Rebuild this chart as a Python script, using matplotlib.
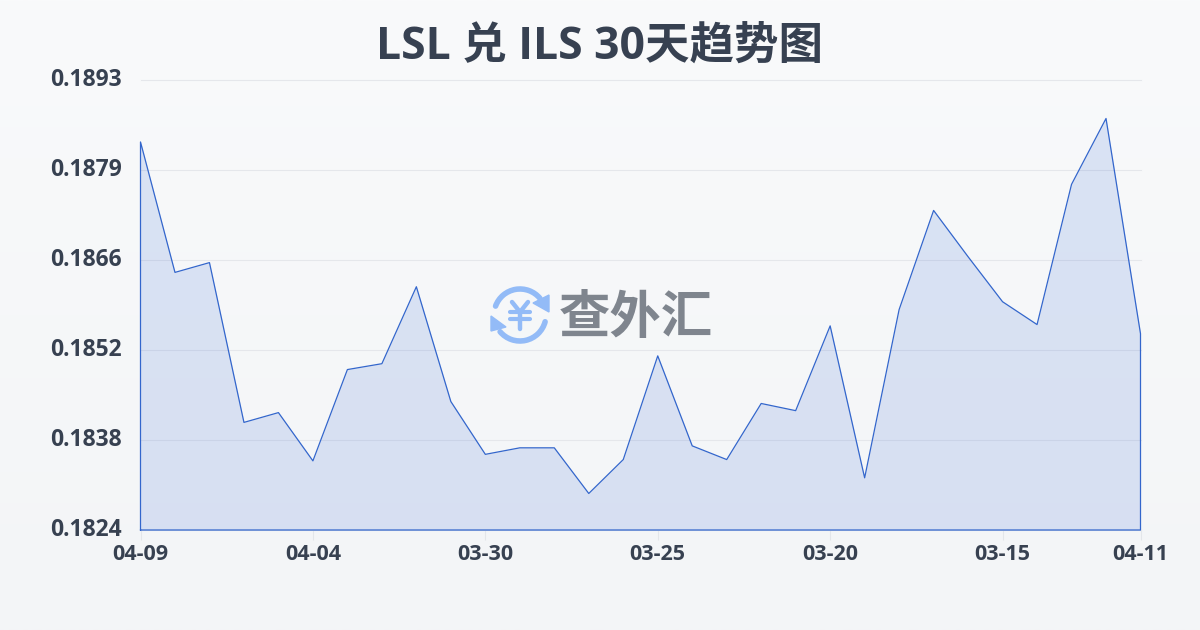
import numpy as np
import matplotlib
matplotlib.use('Agg')
import matplotlib.pyplot as plt
from matplotlib.patches import Arc, Polygon
from matplotlib.transforms import ScaledTranslation

plt.rcParams['font.family'] = ['Open Sans', 'Noto Sans CJK SC', 'DejaVu Sans']

title = 'LSL 兑 ILS 30天趋势图'
logo_text = '查外汇'

#rates, left to right
rates = [0.18835, 0.18635, 0.18650, 0.18405, 0.18420, 0.18346, 0.18486, 0.18495, 0.18613, 0.18437,
         0.18356, 0.18366, 0.18366, 0.18296, 0.18348, 0.18507, 0.18369, 0.18348, 0.18434, 0.18423,
         0.18553, 0.18320, 0.18578, 0.18730, 0.18659, 0.18590, 0.18555, 0.18770, 0.18871, 0.18541]
x_index = [0, 5, 10, 15, 20, 25, 29]
x_labels = ['04-09', '04-04', '03-30', '03-25', '03-20', '03-15', '04-11']
y_ticks = [0.1824, 0.18378, 0.18516, 0.18654, 0.18792, 0.1893]
y_labels = ['0.1824', '0.1838', '0.1852', '0.1866', '0.1879', '0.1893']

text_color = '#374151'
line_color = '#3366cc'

fig = plt.figure(figsize=(12, 6.3), dpi=100)

#background gradient
bg = fig.add_axes([0, 0, 1, 1], zorder=0)
bg.imshow(np.linspace(0, 1, 256).reshape(-1, 1), aspect='auto', extent=[0, 1, 0, 1],
          cmap=matplotlib.colors.LinearSegmentedColormap.from_list('bg', ['#f9fafb', '#f3f5f7']))
bg.axis('off')

ax = fig.add_axes([140.5 / 1200, 100 / 630, 1000 / 1200, 450 / 630], zorder=1)
ax.patch.set_alpha(0)
x = np.arange(len(rates))

ax.set_xlim(0, len(rates) - 1)
ax.set_ylim(y_ticks[0], y_ticks[-1])
ax.set_yticks(y_ticks)
ax.set_yticklabels(y_labels, fontsize=16.5, fontweight='bold', color=text_color, va='center')
ax.set_xticks(x_index)
ax.set_xticklabels(x_labels, fontsize=15.5, fontweight='bold', color=text_color)
ax.tick_params(axis='y', length=0, pad=-0.5)
ax.tick_params(axis='x', length=7, width=0.8, color='#e3e6ea', pad=3)
ax.grid(axis='y', color='#e5e7eb', linewidth=0.8)
ax.set_axisbelow(True)
for s in ax.spines.values():
    s.set_visible(False)
#labels pulled further left of the plot
for lab in ax.get_yticklabels():
    lab.set_transform(lab.get_transform() + ScaledTranslation(-19 / 100, 0, fig.dpi_scale_trans))
#top gridline sits on the axes edge, keep it from being clipped away
for g in ax.get_ygridlines():
    g.set_clip_on(False)

ax.fill_between(x, rates, y_ticks[0], color='#3366d6', alpha=0.15, linewidth=0, zorder=2)
ax.plot(np.r_[x[0], x, x[-1], x[0]], np.r_[y_ticks[0], rates, y_ticks[0], y_ticks[0]],
        color=line_color, linewidth=0.9, zorder=3, clip_on=False)

#title and watermark on a pixel overlay
over = fig.add_axes([0, 0, 1, 1], zorder=2)
over.text(600, 47, title, ha='center', va='center', fontsize=32, fontweight='bold', color=text_color)
over.text(636, 320, logo_text, ha='center', va='center', fontsize=37, fontweight='bold', color='#7f858e')

#logo icon
blue = '#93bbf7'
over.add_patch(Arc((520, 315), 52, 52, theta1=200, theta2=320, color=blue, lw=4, capstyle='round'))
over.add_patch(Arc((520, 315), 52, 52, theta1=15, theta2=140, color=blue, lw=4, capstyle='round'))
over.add_patch(Polygon([(549, 295), (549, 312), (533, 303)], color=blue))
over.add_patch(Polygon([(491, 316), (491, 331), (506, 327)], color=blue))
over.plot([512, 520, 528], [302, 312, 302], color=blue, lw=3.2, solid_capstyle='round')
over.plot([520, 520], [312, 329], color=blue, lw=3.2, solid_capstyle='round')
over.plot([510, 530], [312, 312], color=blue, lw=3, solid_capstyle='round')
over.plot([510, 530], [319, 319], color=blue, lw=3, solid_capstyle='round')

over.set_xlim(0, 1200)
over.set_ylim(630, 0)
over.axis('off')
over.patch.set_alpha(0)

fig.savefig('out.png', dpi=100)
